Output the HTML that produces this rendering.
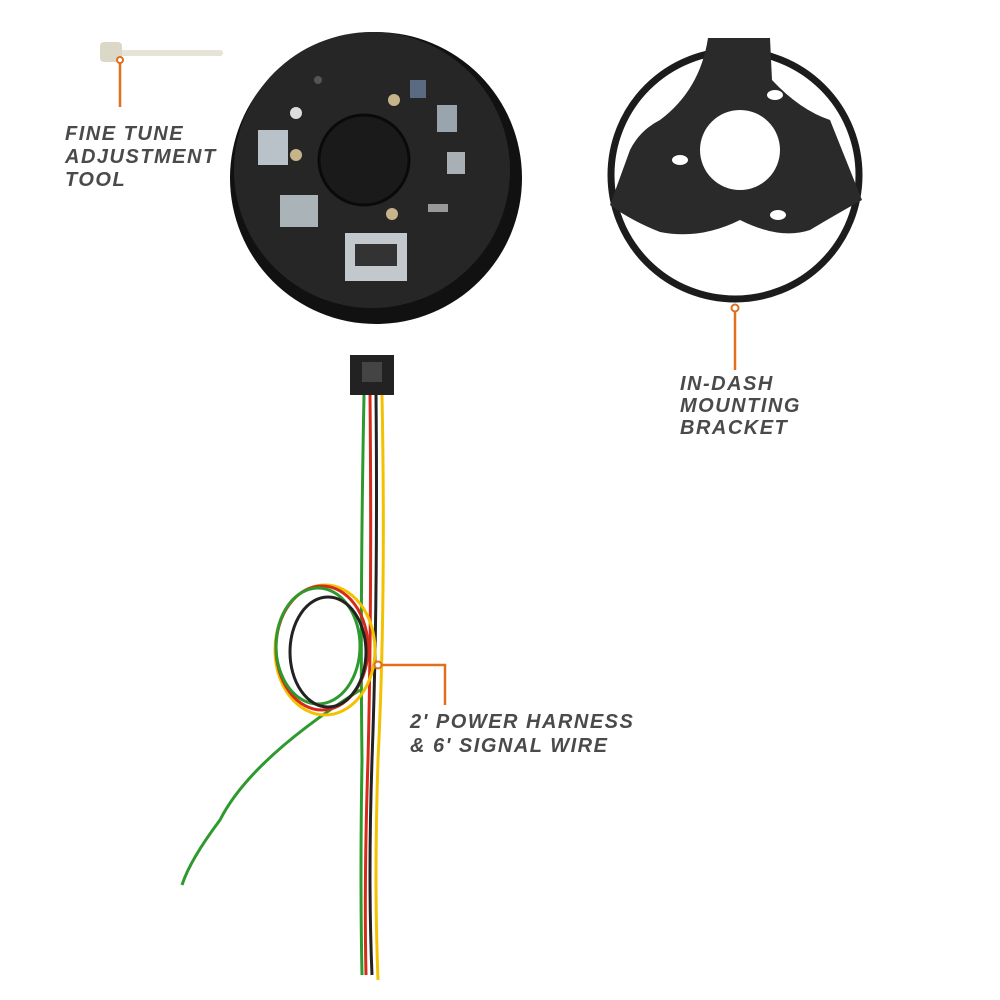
<!DOCTYPE html>
<html><head><meta charset="utf-8"><style>
html,body{margin:0;padding:0;background:#fff;width:1000px;height:1000px;overflow:hidden}
svg{display:block}
.t{font-family:"Liberation Sans",sans-serif;font-weight:bold;font-style:italic;fill:#4a4a4a;font-size:20px;letter-spacing:1.5px}
</style></head><body>
<svg width="1000" height="1000" viewBox="0 0 1000 1000" xmlns="http://www.w3.org/2000/svg">
<!-- tool -->
<rect x="105" y="50" width="118" height="6" rx="3" fill="#e6e3d8"/>
<rect x="100" y="42" width="22" height="20" rx="4" fill="#dcd8c8"/>
<circle cx="120" cy="60" r="3" fill="#fff" stroke="#e07020" stroke-width="2"/>
<line x1="120" y1="63" x2="120" y2="107" stroke="#e07020" stroke-width="2.5"/>
<text class="t" x="65" y="140">FINE TUNE</text>
<text class="t" x="65" y="163">ADJUSTMENT</text>
<text class="t" x="65" y="186">TOOL</text>

<!-- gauge back -->
<ellipse cx="376" cy="178" rx="146" ry="146" fill="#111"/>
<ellipse cx="372" cy="170" rx="138" ry="138" fill="#262626"/>
<circle cx="364" cy="160" r="45" fill="#1a1a1a" stroke="#0a0a0a" stroke-width="3"/>
<rect x="258" y="130" width="30" height="35" fill="#b8c2c8"/>
<rect x="280" y="195" width="38" height="32" fill="#aab4b8"/>
<rect x="345" y="233" width="62" height="48" fill="#c2c8cc"/>
<rect x="355" y="244" width="42" height="22" fill="#333"/>
<rect x="437" y="105" width="20" height="27" fill="#9aa4ac"/>
<rect x="447" y="152" width="18" height="22" fill="#a8b0b6"/>
<rect x="410" y="80" width="16" height="18" fill="#5a6a80"/>
<rect x="428" y="204" width="20" height="8" fill="#999"/>
<circle cx="296" cy="155" r="6" fill="#c8b48a"/>
<circle cx="394" cy="100" r="6" fill="#c8b48a"/>
<circle cx="392" cy="214" r="6" fill="#c8b48a"/>
<circle cx="296" cy="113" r="6" fill="#ddd"/>
<circle cx="318" cy="80" r="4" fill="#555"/>

<!-- bracket -->
<circle cx="735" cy="175" r="124" fill="none" stroke="#1c1c1c" stroke-width="7"/>
<path d="M708 38 L770 38 L772 80 Q800 110 830 120 L862 200 Q835 215 810 230 Q780 240 740 220 Q700 240 660 232 Q630 220 610 205 L630 150 Q640 130 660 120 Q700 90 708 38 Z" fill="#2a2a2a"/>
<circle cx="740" cy="150" r="40" fill="#fff"/>
<ellipse cx="680" cy="160" rx="8" ry="5" fill="#fff"/>
<ellipse cx="775" cy="95" rx="8" ry="5" fill="#fff"/>
<ellipse cx="778" cy="215" rx="8" ry="5" fill="#fff"/>
<circle cx="735" cy="308" r="3.5" fill="#fff" stroke="#e07020" stroke-width="2"/>
<line x1="735" y1="312" x2="735" y2="370" stroke="#e07020" stroke-width="2.5"/>
<text class="t" x="680" y="390">IN-DASH</text>
<text class="t" x="680" y="412">MOUNTING</text>
<text class="t" x="680" y="434">BRACKET</text>

<!-- harness -->
<rect x="350" y="355" width="44" height="40" fill="#222"/>
<rect x="362" y="362" width="20" height="20" fill="#444"/>
<g fill="none" stroke-width="3">
<path d="M364 395 Q360 600 362 760 Q360 880 362 975" stroke="#2e9a2e"/>
<path d="M370 395 Q372 600 368 760 Q364 880 366 975" stroke="#d62a1a"/>
<path d="M376 395 Q378 600 372 760 Q368 880 372 975" stroke="#222"/>
<path d="M382 395 Q386 600 378 760 Q374 880 378 980" stroke="#f2c200"/>
<path d="M360 690 Q250 760 220 820 Q190 860 182 885" stroke="#2e9a2e"/>
<ellipse cx="325" cy="650" rx="50" ry="65" stroke="#f2c200"/>
<ellipse cx="322" cy="648" rx="46" ry="62" stroke="#d62a1a"/>
<ellipse cx="318" cy="646" rx="42" ry="58" stroke="#2e9a2e"/>
<ellipse cx="328" cy="652" rx="38" ry="55" stroke="#222"/>
</g>
<circle cx="378" cy="665" r="3.5" fill="#fff" stroke="#e07020" stroke-width="2"/>
<polyline points="382,665 445,665 445,705" fill="none" stroke="#e07020" stroke-width="2.5"/>
<text class="t" x="410" y="728">2' POWER HARNESS</text>
<text class="t" x="410" y="752">&amp; 6' SIGNAL WIRE</text>
</svg>
</body></html>
